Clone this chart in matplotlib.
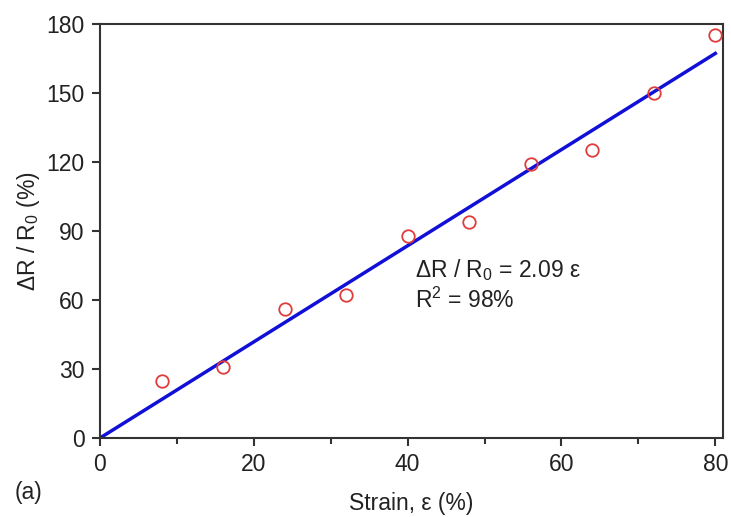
import numpy as np
import matplotlib
matplotlib.use("Agg")
import matplotlib.pyplot as plt

plt.rcParams['font.family'] = ['Liberation Sans', 'DejaVu Sans']
plt.rcParams['mathtext.fontset'] = 'custom'
plt.rcParams['mathtext.rm'] = 'Liberation Sans'

# measured data
strain = [8, 16, 24, 32, 40, 48, 56, 64, 72, 80]
resistance = [25, 31, 56, 62, 88, 94, 119, 125, 150, 175]
slope = 2.09
fit_x = [0, 80]

fs = 16.5

fig = plt.figure(figsize=(7.31, 5.17), dpi=100)
ax = fig.add_axes([100 / 731, 1 - 438 / 517, 623 / 731, 414 / 517])

ax.plot(fit_x, [slope * x for x in fit_x], color='#1010d8', lw=2.5, zorder=2)
ax.plot(strain, resistance, 'o', mfc='none', mec='#e03c3c', ms=9, mew=1.3, zorder=3)

ax.set_xlim(0, 81)
ax.set_ylim(0, 180)
ax.set_xticks([0, 20, 40, 60, 80])
ax.set_xticks([10, 30, 50, 70], minor=True)
ax.set_yticks([0, 30, 60, 90, 120, 150, 180])

for s in ax.spines.values():
    s.set_color('#333333')
    s.set_linewidth(1.5)
ax.tick_params(which='major', direction='out', length=6, width=1.5, colors='#333333',
               labelsize=fs, labelcolor='#222222', pad=5)
ax.tick_params(which='minor', direction='out', length=4, width=1.5, colors='#333333')

ax.set_xlabel('Strain, ε (%)', fontsize=fs, color='#222222', labelpad=11)
ax.set_ylabel(r'ΔR / R$_0$ (%)', fontsize=fs, color='#222222', labelpad=3)

ax.text(41, 73, r'ΔR / R$_0$ = 2.09 ε', fontsize=fs, color='#222222', va='center')
ax.text(41, 60, r'R$^2$ = 98%', fontsize=fs, color='#222222', va='center')

fig.text(15 / 731, 1 - 493 / 517, '(a)', fontsize=fs, color='#222222', va='center')

fig.savefig('out.png', dpi=100)
